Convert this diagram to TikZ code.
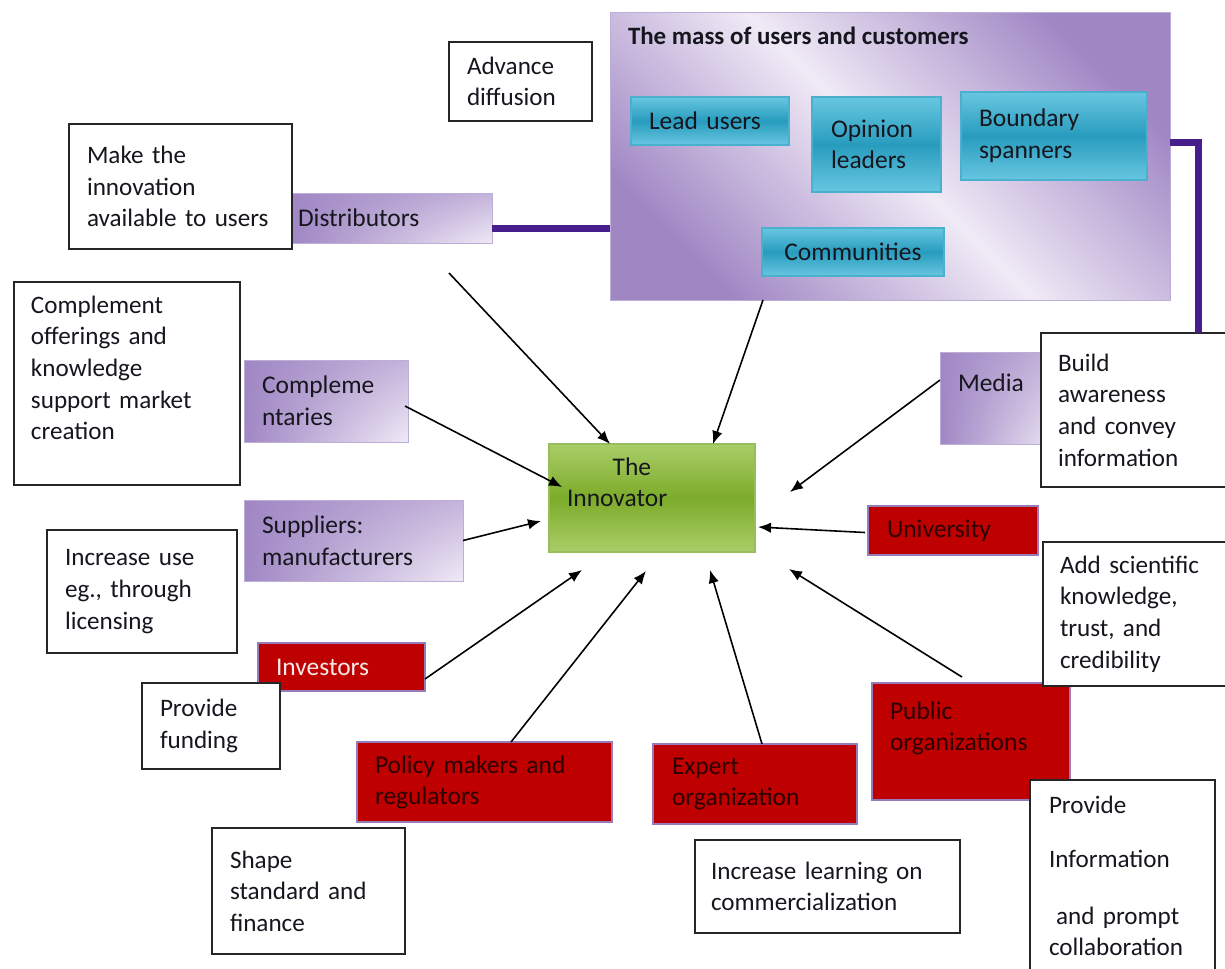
\documentclass[tikz,border=0pt]{standalone}
\usepackage{fontspec}
\setmainfont{Carlito}
\usetikzlibrary{arrows.meta,positioning,shadings}

\definecolor{massdark}{RGB}{160,135,196}
\definecolor{masslight}{RGB}{240,234,246}
\definecolor{partnerrim}{RGB}{188,174,214}
\definecolor{tealtop}{RGB}{104,198,224}
\definecolor{tealmid}{RGB}{40,156,190}
\definecolor{tealrim}{RGB}{74,176,206}
\definecolor{greentop}{RGB}{170,206,104}
\definecolor{greenmid}{RGB}{124,171,42}
\definecolor{greenrim}{RGB}{150,190,92}
\definecolor{actorred}{RGB}{190,0,0}
\definecolor{actorrim}{RGB}{150,125,185}
\definecolor{bondpurple}{RGB}{72,30,140}
\definecolor{ink}{RGB}{22,22,30}
\definecolor{redink}{RGB}{45,0,0}

\newcommand{\pxu}{0.02cm}
\newcommand{\bodysize}{\fontsize{14.3}{18}\selectfont}

\tikzset{
  every node/.append style={anchor=north west, inner ysep=0pt, outer sep=0pt, text=ink},
  boxsize/.style n args={3}{minimum height=#2*\pxu, inner xsep=#3*\pxu, text width=#1*\pxu-2*#3*\pxu},
  role/.style={draw=black!85, line width=0.9pt, fill=white, align=left, font=\bodysize},
  crowd/.style={draw=partnerrim, line width=0.5pt, top color=massdark, bottom color=massdark,
    middle color=masslight, shading angle=-45},
  partner/.style={draw=partnerrim, line width=0.5pt, upper left=massdark, lower left=massdark,
    upper right=massdark!55!masslight, lower right=masslight, align=left,
    font=\fontsize{14.5}{18}\selectfont},
  segment/.style={draw=tealrim, line width=1.3pt, top color=tealtop, bottom color=tealtop,
    middle color=tealmid, align=left, font=\fontsize{14.5}{18}\selectfont},
  actor/.style={draw=actorrim, line width=0.6pt, fill=actorred, text=redink, align=left,
    font=\fontsize{14.5}{17.5}\selectfont},
  hub/.style={draw=greenrim, line width=1.2pt, top color=greentop, bottom color=greentop,
    middle color=greenmid, align=left, font=\fontsize{14.5}{18}\selectfont},
  feed/.style={-{Latex[length=0.26cm,width=0.21cm]}, line width=0.9pt, black},
  bond/.style={bondpurple, line width=0.14cm},
}

\begin{document}
\begin{tikzpicture}[x=\pxu, y=-\pxu]
\useasboundingbox (0,0) rectangle (1225,968);

% users and customers
\node[crowd, boxsize={560}{288}{0}] (mass) at (610,12) {};
\node[font=\bfseries\fontsize{14.2}{17}\selectfont, inner xsep=0pt,
  below right=0.3cm and 0.36cm of mass.north west] (mass-title) {The mass of users and customers};
\node[segment, boxsize={158}{48}{18}] (lead) at (631,97) {Lead users};
\node[segment, boxsize={129}{95}{19}] (opinion) at (812,97) {Opinion\\leaders};
\node[segment, boxsize={186}{88}{18}] (boundary) at (961,92) {Boundary\\spanners};
\node[segment, boxsize={182}{48}{6}, align=center] (communities) at (762,228) {Communities};

% the innovator
\node[hub, boxsize={206}{108}{18}] (innov) at (549,444) {\hspace*{26pt}The\\Innovator\\~};

% partners
\node[partner, boxsize={200}{50}{6}] (dist) at (292,193) {Distributors};
\node[partner, boxsize={164}{82}{18}] (comp) at (244,360) {Compleme\\ntaries};
\node[partner, boxsize={219}{81}{18}] (sup) at (244,500) {Suppliers:\\manufacturers};
\node[partner, boxsize={120}{92}{18}] (media) at (940,352) {Media\\~};

% institutions
\node[actor, boxsize={170}{49}{19}] (uni) at (868,506) {University};
\node[actor, boxsize={167}{48}{18}, text={rgb,255:red,248;green,232;blue,232}] (inv) at (258,643) {Investors};
\node[actor, boxsize={255}{80}{18}] (policy) at (357,742) {Policy makers and\\regulators};
\node[actor, boxsize={204}{80}{19}] (expert) at (653,744) {Expert\\organization};
\node[actor, boxsize={198}{117}{18}] (public) at (872,683) {Public\\organizations\\~};

% roles
\node[role, boxsize={143}{79}{18}] (advance) at (449,42) {Advance\\diffusion};
\node[role, boxsize={223}{125}{18}] (make) at (69,124) {Make the\\innovation\\available to users};
\node[role, boxsize={226}{203}{17}] (offer) at (14,282) {Complement\\offerings and\\knowledge\\support market\\creation\\~};
\node[role, boxsize={190}{123}{18}] (use) at (47,530) {Increase use\\eg., through\\licensing};
\node[role, boxsize={138}{86}{18}] (funding) at (142,683) {Provide\\funding};
\node[role, boxsize={193}{126}{18}] (shape) at (212,828) {Shape\\standard and\\finance};
\node[role, boxsize={265}{93}{16}] (learning) at (695,840) {Increase learning on\\commercialization};
\node[role, boxsize={200}{154}{17}] (build) at (1041,333) {Build\\awareness\\and convey\\information};
\node[role, boxsize={200}{144}{17}] (science) at (1043,542) {Add scientific\\knowledge,\\trust, and\\credibility};
\node[role, boxsize={185}{192}{19}] (inform) at (1030,780) {Provide\\[13pt]Information\\[14pt]\hspace*{4pt}and prompt\\collaboration};

% purple links
\coordinate (dist-link) at ([shift={(0,10)}]dist.east);
\draw[bond] (dist-link) -- (dist-link -| mass.west);
\coordinate (mass-link) at ([shift={(0,-14)}]mass.east);
\draw[bond] (mass-link) -| ([shift={(157,0)}]build.north west);

% arrows to the innovator
\coordinate (dist-tail) at (449,273);
\coordinate (media-head) at (790,492);
\draw[feed] (dist-tail) -- ([shift={(61,0)}]innov.north west);
\draw[feed] ([shift={(153,0)}]mass.south west) -- ([shift={(164,0)}]innov.north west);
\draw[feed] ([shift={(0,28)}]media.north west) -- (media-head);
\draw[feed] ([shift={(-3,5)}]comp.east) -- ([shift={(13,43)}]innov.north west);
\draw[feed] (sup.east) -- ([shift={(-8,23)}]innov.west);
\draw[feed] ([shift={(-3,2)}]uni.west) -- ([shift={(3,29)}]innov.east);
\draw[feed] ([shift={(0,12)}]inv.east) -- ([shift={(33,18)}]innov.south west);
\draw[feed] ([shift={(154,0)}]policy.north west) -- ([shift={(97,19)}]innov.south west);
\draw[feed] ([shift={(109,0)}]expert.north west) -- ([shift={(161,18)}]innov.south west);
\draw[feed] ([shift={(90,-6)}]public.north west) -- ([shift={(34,17)}]innov.south east);

\end{tikzpicture}
\end{document}
